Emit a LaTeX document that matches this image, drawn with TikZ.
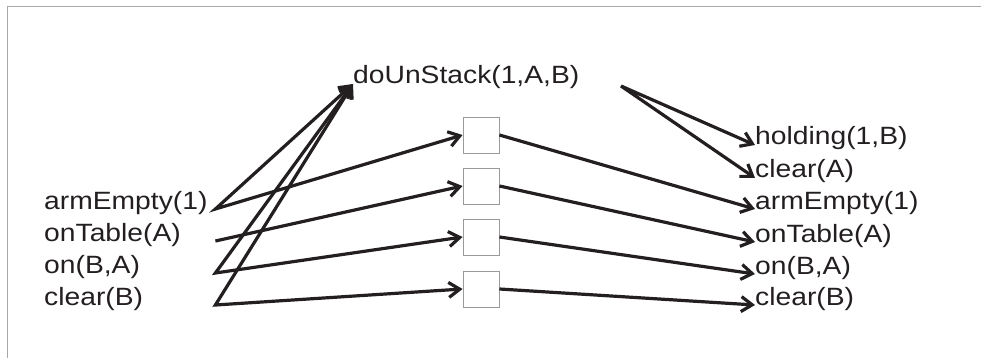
\documentclass[tikz,border=0pt]{standalone}
\usepackage{fontspec}
\setmainfont{Liberation Sans}[FakeStretch=1.13]
\usetikzlibrary{arrows.meta}
\definecolor{ink}{HTML}{231F20}
\definecolor{framegray}{HTML}{A8A8A8}
\definecolor{boxgray}{HTML}{9A9A9A}
\begin{document}
\begin{tikzpicture}[x=1pt,y=-1pt,
  lbl/.style={font=\fontsize{25}{29}\selectfont, inner sep=0pt, text=ink},
  leftlbl/.style={lbl, text width=171pt, align=left, anchor=base west},
  rightlbl/.style={lbl, anchor=base west},
  opbox/.style={draw=boxgray, line width=0.9pt, minimum size=36pt, inner sep=0pt},
  barb/.tip={Straight Barb[length=11pt,width=15pt]},
  conn/.style={draw=ink, line width=3.2pt, line join=miter},
]
\useasboundingbox (0,0) rectangle (981,358);
\draw[framegray, line width=1pt] (981,7) -- (7,7) -- (7,358);

% action
\node[rightlbl] (d) at (353,84) {doUnStack(1,A,B)};
\coordinate (dout) at ([xshift=268pt,yshift=-2pt]d.base west);

% left labels
\node[leftlbl] (l1) at (44,209) {armEmpty(1)};
\node[leftlbl] (l2) at (44,241) {onTable(A)};
\node[leftlbl] (l3) at (44,273) {on(B,A)};
\node[leftlbl] (l4) at (44,305) {clear(B)};

% boxes
\node[opbox] (b1) at (481,135) {};
\node[opbox] (b2) at (481,186) {};
\node[opbox] (b3) at (481,237) {};
\node[opbox] (b4) at (481,289) {};

% right labels
\node[rightlbl] (r1) at (755,145) {holding(1,B)};
\node[rightlbl] (r2) at (755,178) {clear(A)};
\node[rightlbl] (r3) at (755,209) {armEmpty(1)};
\node[rightlbl] (r4) at (755,242) {onTable(A)};
\node[rightlbl] (r5) at (755,274) {on(B,A)};
\node[rightlbl] (r6) at (755,305) {clear(B)};

% connectors
\draw[conn, barb-barb] (d.base west) -- (l1.base east) -- (b1.west);
\draw[conn, -barb] (l2.base east) -- (b2.west);
\draw[conn, barb-barb] (d.base west) -- (l3.base east) -- (b3.west);
\draw[conn, barb-barb] (d.base west) -- (l4.base east) -- (b4.west);

\draw[conn, barb-barb] (r1.base west) -- (dout) -- (r2.base west);

\draw[conn, -barb] (b1.east) -- (r3.base west);
\draw[conn, -barb] (b2.east) -- (r4.base west);
\draw[conn, -barb] (b3.east) -- (r5.base west);
\draw[conn, -barb] (b4.east) -- (r6.base west);
\end{tikzpicture}
\end{document}
